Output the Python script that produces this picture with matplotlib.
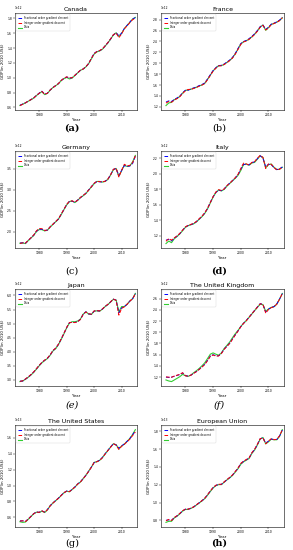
import numpy as np
import matplotlib
matplotlib.use("Agg")
import matplotlib.pyplot as plt

years = np.arange(1973, 2016)

countries = ["Canada", "France", "Germany", "Italy",
             "Japan", "The United Kingdom", "The United States", "European Union"]
captions = ["(a)", "(b)", "(c)", "(d)", "(e)", "(f)", "(g)", "(h)"]
scales = [1e12, 1e12, 1e12, 1e12, 1e12, 1e12, 1e13, 1e13]

# GDP values, in units of the axis offset (1e12 or 1e13)
can_data = [0.626, 0.643, 0.660, 0.682, 0.703, 0.725, 0.759, 0.789, 0.811, 0.772, 0.789, 0.832, 0.867, 0.892, 0.918,
            0.961, 0.987, 1.004, 0.983, 0.996, 1.030, 1.064, 1.099, 1.116, 1.146, 1.189, 1.254, 1.318, 1.348, 1.361,
            1.383, 1.426, 1.469, 1.520, 1.576, 1.606, 1.555, 1.598, 1.662, 1.705, 1.748, 1.791, 1.813]
can_frac = [0.628, 0.645, 0.662, 0.683, 0.705, 0.727, 0.761, 0.792, 0.818, 0.778, 0.791, 0.834, 0.868, 0.894, 0.920,
            0.962, 0.990, 1.010, 0.995, 1.000, 1.032, 1.066, 1.100, 1.118, 1.148, 1.192, 1.262, 1.328, 1.354, 1.365,
            1.386, 1.428, 1.472, 1.522, 1.578, 1.606, 1.565, 1.600, 1.664, 1.706, 1.750, 1.792, 1.810]
can_int = [0.624, 0.641, 0.661, 0.684, 0.704, 0.726, 0.760, 0.790, 0.815, 0.776, 0.790, 0.835, 0.866, 0.893, 0.921,
           0.963, 0.992, 1.012, 0.998, 0.999, 1.033, 1.067, 1.101, 1.117, 1.149, 1.193, 1.260, 1.325, 1.352, 1.366,
           1.388, 1.430, 1.474, 1.525, 1.580, 1.602, 1.540, 1.590, 1.660, 1.700, 1.742, 1.782, 1.800]

fra_data = [1.224, 1.272, 1.284, 1.332, 1.356, 1.392, 1.452, 1.500, 1.512, 1.524, 1.542, 1.560, 1.584, 1.602, 1.632,
            1.704, 1.782, 1.860, 1.914, 1.956, 1.956, 1.980, 2.016, 2.052, 2.100, 2.172, 2.262, 2.352, 2.394, 2.412,
            2.442, 2.484, 2.532, 2.592, 2.664, 2.700, 2.604, 2.652, 2.712, 2.730, 2.754, 2.784, 2.832]
fra_frac = [1.290, 1.310, 1.300, 1.335, 1.365, 1.398, 1.458, 1.505, 1.505, 1.530, 1.548, 1.566, 1.590, 1.610, 1.640,
            1.712, 1.790, 1.866, 1.918, 1.958, 1.962, 1.986, 2.022, 2.058, 2.106, 2.178, 2.270, 2.360, 2.398, 2.418,
            2.450, 2.492, 2.540, 2.600, 2.670, 2.700, 2.620, 2.660, 2.716, 2.734, 2.758, 2.790, 2.840]
fra_int = [1.270, 1.300, 1.285, 1.325, 1.352, 1.388, 1.446, 1.495, 1.520, 1.520, 1.538, 1.556, 1.580, 1.600, 1.628,
           1.700, 1.776, 1.854, 1.908, 1.950, 1.954, 1.976, 2.010, 2.048, 2.095, 2.166, 2.255, 2.345, 2.390, 2.408,
           2.438, 2.480, 2.528, 2.588, 2.660, 2.695, 2.610, 2.648, 2.708, 2.728, 2.750, 2.780, 2.835]

deu_data = [1.731, 1.738, 1.723, 1.792, 1.854, 1.915, 2.008, 2.054, 2.054, 2.023, 2.039, 2.116, 2.177, 2.239, 2.300,
            2.408, 2.524, 2.639, 2.716, 2.732, 2.693, 2.747, 2.809, 2.855, 2.909, 2.986, 3.063, 3.140, 3.194, 3.194,
            3.178, 3.194, 3.240, 3.348, 3.471, 3.502, 3.317, 3.448, 3.579, 3.548, 3.563, 3.656, 3.810]
deu_frac = [1.735, 1.742, 1.730, 1.795, 1.858, 1.920, 2.015, 2.065, 2.062, 2.030, 2.042, 2.120, 2.180, 2.243, 2.305,
            2.415, 2.530, 2.645, 2.722, 2.728, 2.700, 2.752, 2.812, 2.860, 2.915, 2.992, 3.070, 3.148, 3.190, 3.185,
            3.182, 3.200, 3.246, 3.352, 3.478, 3.498, 3.330, 3.455, 3.570, 3.552, 3.560, 3.620, 3.790]
deu_int = [1.728, 1.740, 1.735, 1.800, 1.860, 1.925, 2.025, 2.080, 2.075, 2.035, 2.045, 2.118, 2.182, 2.245, 2.310,
           2.420, 2.535, 2.650, 2.725, 2.735, 2.705, 2.750, 2.815, 2.865, 2.912, 2.990, 3.068, 3.150, 3.200, 3.188,
           3.185, 3.198, 3.250, 3.355, 3.482, 3.505, 3.300, 3.460, 3.600, 3.560, 3.575, 3.640, 3.800]

ita_data = [1.095, 1.128, 1.107, 1.158, 1.187, 1.221, 1.263, 1.306, 1.327, 1.339, 1.352, 1.377, 1.411, 1.445, 1.487,
            1.546, 1.622, 1.698, 1.757, 1.791, 1.778, 1.799, 1.841, 1.875, 1.909, 1.943, 1.981, 2.044, 2.120, 2.128,
            2.112, 2.141, 2.150, 2.192, 2.234, 2.213, 2.078, 2.120, 2.128, 2.086, 2.057, 2.061, 2.086]
ita_frac = [1.140, 1.150, 1.130, 1.165, 1.192, 1.225, 1.268, 1.310, 1.330, 1.342, 1.355, 1.380, 1.415, 1.450, 1.492,
            1.552, 1.628, 1.702, 1.760, 1.788, 1.782, 1.804, 1.846, 1.880, 1.912, 1.948, 1.990, 2.060, 2.125, 2.122,
            2.118, 2.146, 2.158, 2.198, 2.236, 2.205, 2.090, 2.125, 2.120, 2.080, 2.055, 2.066, 2.090]
ita_int = [1.125, 1.160, 1.140, 1.170, 1.195, 1.228, 1.270, 1.312, 1.333, 1.345, 1.358, 1.383, 1.418, 1.452, 1.495,
           1.555, 1.630, 1.705, 1.765, 1.795, 1.785, 1.805, 1.848, 1.878, 1.915, 1.950, 1.995, 2.070, 2.140, 2.130,
           2.115, 2.150, 2.160, 2.205, 2.240, 2.215, 2.070, 2.130, 2.125, 2.082, 2.052, 2.060, 2.088]

jpn_data = [2.942, 2.965, 3.023, 3.093, 3.175, 3.269, 3.385, 3.502, 3.607, 3.689, 3.759, 3.876, 4.028, 4.110, 4.250,
            4.437, 4.635, 4.845, 5.021, 5.067, 5.067, 5.091, 5.161, 5.336, 5.418, 5.336, 5.324, 5.441, 5.453, 5.441,
            5.511, 5.605, 5.675, 5.768, 5.862, 5.838, 5.418, 5.605, 5.605, 5.686, 5.803, 5.885, 6.072]
jpn_frac = [2.960, 2.960, 3.030, 3.100, 3.185, 3.280, 3.395, 3.515, 3.620, 3.700, 3.770, 3.890, 4.040, 4.125, 4.265,
            4.450, 4.650, 4.860, 5.030, 5.050, 5.040, 5.070, 5.150, 5.330, 5.420, 5.345, 5.330, 5.445, 5.458, 5.448,
            5.515, 5.610, 5.680, 5.772, 5.868, 5.830, 5.380, 5.560, 5.600, 5.690, 5.800, 5.880, 6.060]
jpn_int = [2.950, 2.970, 3.035, 3.110, 3.190, 3.285, 3.400, 3.520, 3.625, 3.705, 3.775, 3.895, 4.045, 4.130, 4.270,
           4.455, 4.655, 4.865, 5.035, 5.045, 5.035, 5.065, 5.145, 5.325, 5.415, 5.350, 5.335, 5.450, 5.460, 5.450,
           5.520, 5.612, 5.684, 5.775, 5.870, 5.825, 5.300, 5.540, 5.595, 5.688, 5.798, 5.878, 6.065]

gbr_data = [1.150, 1.132, 1.121, 1.150, 1.179, 1.209, 1.250, 1.226, 1.215, 1.238, 1.279, 1.315, 1.356, 1.403, 1.456,
            1.532, 1.609, 1.632, 1.609, 1.591, 1.632, 1.709, 1.767, 1.826, 1.903, 1.973, 2.032, 2.103, 2.161, 2.208,
            2.267, 2.326, 2.385, 2.444, 2.502, 2.491, 2.373, 2.414, 2.444, 2.455, 2.502, 2.591, 2.691]
gbr_frac = [1.200, 1.195, 1.200, 1.215, 1.232, 1.245, 1.275, 1.228, 1.218, 1.236, 1.270, 1.300, 1.340, 1.385, 1.430,
            1.500, 1.575, 1.600, 1.580, 1.580, 1.625, 1.700, 1.752, 1.805, 1.880, 1.955, 2.025, 2.100, 2.160, 2.210,
            2.270, 2.330, 2.390, 2.450, 2.510, 2.495, 2.360, 2.410, 2.440, 2.458, 2.505, 2.590, 2.690]
gbr_int = [1.205, 1.200, 1.198, 1.220, 1.235, 1.250, 1.280, 1.225, 1.215, 1.235, 1.268, 1.298, 1.338, 1.380, 1.425,
           1.495, 1.570, 1.595, 1.575, 1.578, 1.620, 1.695, 1.748, 1.800, 1.875, 1.950, 2.020, 2.098, 2.158, 2.205,
           2.268, 2.328, 2.388, 2.448, 2.505, 2.498, 2.340, 2.405, 2.438, 2.455, 2.500, 2.588, 2.692]

usa_data = [0.544, 0.536, 0.540, 0.574, 0.609, 0.643, 0.664, 0.660, 0.677, 0.660, 0.694, 0.745, 0.780, 0.809, 0.839,
            0.874, 0.908, 0.929, 0.921, 0.950, 0.980, 1.019, 1.044, 1.087, 1.130, 1.181, 1.233, 1.292, 1.301, 1.318,
            1.352, 1.399, 1.442, 1.485, 1.527, 1.515, 1.463, 1.498, 1.523, 1.557, 1.595, 1.645, 1.705]
usa_frac = [0.555, 0.555, 0.548, 0.578, 0.612, 0.646, 0.667, 0.663, 0.680, 0.666, 0.697, 0.746, 0.781, 0.811, 0.841,
            0.876, 0.910, 0.931, 0.925, 0.952, 0.982, 1.020, 1.046, 1.088, 1.130, 1.180, 1.232, 1.290, 1.302, 1.320,
            1.354, 1.400, 1.444, 1.487, 1.528, 1.512, 1.470, 1.500, 1.525, 1.558, 1.592, 1.640, 1.690]
usa_int = [0.552, 0.556, 0.546, 0.576, 0.611, 0.645, 0.666, 0.662, 0.682, 0.662, 0.695, 0.744, 0.779, 0.810, 0.840,
           0.875, 0.909, 0.930, 0.923, 0.951, 0.981, 1.018, 1.045, 1.086, 1.129, 1.179, 1.231, 1.291, 1.300, 1.317,
           1.350, 1.398, 1.441, 1.484, 1.526, 1.510, 1.455, 1.495, 1.520, 1.552, 1.585, 1.630, 1.675]

eu_data = [0.777, 0.789, 0.789, 0.827, 0.846, 0.873, 0.903, 0.922, 0.922, 0.934, 0.949, 0.972, 0.995, 1.018, 1.044,
           1.082, 1.124, 1.163, 1.189, 1.201, 1.201, 1.228, 1.254, 1.277, 1.304, 1.342, 1.380, 1.430, 1.457, 1.476,
           1.495, 1.552, 1.590, 1.647, 1.712, 1.731, 1.659, 1.682, 1.712, 1.705, 1.705, 1.743, 1.819]
eu_frac = [0.800, 0.805, 0.800, 0.830, 0.850, 0.876, 0.906, 0.925, 0.926, 0.936, 0.951, 0.974, 0.997, 1.020, 1.047,
           1.086, 1.128, 1.167, 1.192, 1.203, 1.204, 1.230, 1.257, 1.280, 1.308, 1.346, 1.385, 1.436, 1.462, 1.480,
           1.500, 1.556, 1.596, 1.652, 1.716, 1.728, 1.668, 1.690, 1.714, 1.708, 1.708, 1.748, 1.815]
eu_int = [0.795, 0.810, 0.798, 0.832, 0.852, 0.878, 0.908, 0.926, 0.925, 0.937, 0.952, 0.975, 0.998, 1.022, 1.049,
          1.088, 1.130, 1.169, 1.194, 1.205, 1.205, 1.232, 1.258, 1.282, 1.310, 1.348, 1.388, 1.440, 1.465, 1.483,
          1.502, 1.560, 1.600, 1.655, 1.718, 1.725, 1.660, 1.692, 1.716, 1.706, 1.710, 1.750, 1.818]

data_all = [can_data, fra_data, deu_data, ita_data, jpn_data, gbr_data, usa_data, eu_data]
frac_all = [can_frac, fra_frac, deu_frac, ita_frac, jpn_frac, gbr_frac, usa_frac, eu_frac]
int_all = [can_int, fra_int, deu_int, ita_int, jpn_int, gbr_int, usa_int, eu_int]

W, H = 293, 550
fig = plt.figure(figsize=(W / 100, H / 100), dpi=100)

# panel boxes in pixels
lefts = [15, 161]
widths = [122, 123]
tops = [13, 151, 289, 425]
heights = [97, 97, 97, 102]
cap_y = [128, 271, 405, 543]
cap_x = [72, 219]
cap_style = [("bold", "normal"), ("normal", "normal"), ("normal", "normal"), ("bold", "normal"),
             ("normal", "italic"), ("normal", "italic"), ("normal", "normal"), ("bold", "normal")]

for i, name in enumerate(countries):
    r, c = divmod(i, 2)
    ax = fig.add_axes([lefts[c] / W, 1 - (tops[r] + heights[r]) / H, widths[c] / W, heights[r] / H])
    s = scales[i]
    ax.plot(years, np.array(frac_all[i]) * s, color="blue", ls="--", lw=0.7,
            label="Fractional order gradient descent", zorder=3)
    ax.plot(years, np.array(int_all[i]) * s, color="red", ls="--", lw=0.7,
            label="Integer order gradient descent", zorder=3)
    ax.plot(years, np.array(data_all[i]) * s, color="limegreen", lw=0.8, label="Data", zorder=2)
    ax.set_xlim(1971.2, 2015.6)
    ax.set_xticks([1980, 1990, 2000, 2010])
    ax.set_title(name, fontsize=4.5, pad=1.5)
    ax.set_xlabel("Year", fontsize=2.8, labelpad=1)
    ax.set_ylabel(r"GDP(in 2010 US\$)", fontsize=2.8, labelpad=1.5)
    ax.tick_params(labelsize=2.2, length=1.2, width=0.3, pad=1)
    ax.yaxis.get_offset_text().set_fontsize(2.2)
    for sp in ax.spines.values():
        sp.set_linewidth(0.4)
    leg = ax.legend(loc="upper left", fontsize=1.9, handlelength=1.6, handletextpad=0.8,
                    borderpad=0.5, labelspacing=0.35, frameon=True, framealpha=0.8, edgecolor="0.8")
    leg.get_frame().set_linewidth(0.3)
    fw, st = cap_style[i]
    fig.text(cap_x[c] / W, 1 - cap_y[r] / H, captions[i], ha="center", va="center",
             fontsize=7, family="DejaVu Serif", fontweight=fw, fontstyle=st)

fig.savefig("out.png", dpi=100)
